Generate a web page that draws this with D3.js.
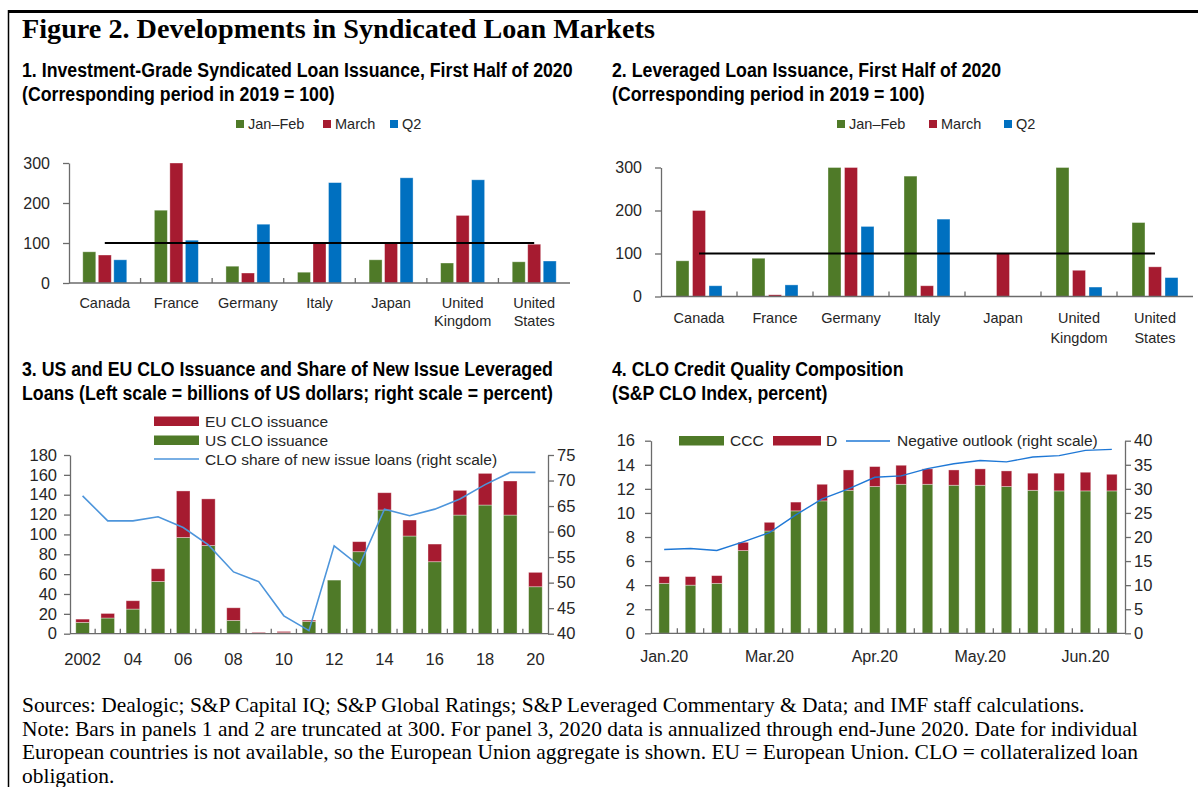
<!DOCTYPE html>
<html><head><meta charset="utf-8">
<script src="https://cdn.jsdelivr.net/npm/d3@7"></script>
<style>body{margin:0;background:#fff}svg{display:block}</style>
</head><body>
<script>
// ---------- DATA ----------
const countries = ["Canada","France","Germany","Italy","Japan","United Kingdom","United States"];
const countryLabelLines = [["Canada"],["France"],["Germany"],["Italy"],["Japan"],["United","Kingdom"],["United","States"]];
const periodNames = ["Jan–Feb","March","Q2"];
const igJanFeb = [78,182,42,27,58,50,53];
const igMarch  = [70,300,25,100,100,169,97];
const igQ2     = [58,107,147,251,263,258,55];
const levJanFeb = [83,89,300,280,0,300,172];
const levMarch  = [200,4,300,25,100,61,69];
const levQ2     = [25,27,163,180,0,22,44];
const p12Ticks = [0,100,200,300];
const baseline2019 = 100;

const years = [2002,2003,2004,2005,2006,2007,2008,2009,2010,2011,2012,2013,2014,2015,2016,2017,2018,2019,2020];
const yearLabels = ["2002","","04","","06","","08","","10","","12","","14","","16","","18","","20"];
const usCLO = [11.4,15.8,24.8,52.6,96.9,88.8,13.4,0.3,1.0,12.4,54.0,82.6,124.6,98.4,72.5,119.5,129.6,119.5,47.3];
const euCLO = [3.3,4.6,8.4,12.8,46.9,47.0,12.7,1.0,1.3,1.3,0.0,10.1,17.4,16.1,17.8,24.9,31.9,34.3,14.5];
const cloShare = [67.0,62.1,62.1,62.9,60.8,57.4,52.1,50.2,43.5,40.6,57.2,53.3,64.4,63.1,64.4,66.4,69.2,71.6,71.6];
const p3LeftTicks = [0,20,40,60,80,100,120,140,160,180];
const p3RightTicks = [40,45,50,55,60,65,70,75];

const weeks = ["w01","w02","w03","w04","w05","w06","w07","w08","w09","w10","w11","w12","w13","w14","w15","w16","w17","w18"];
const weekLabels = ["Jan.20","","","","Mar.20","","","","Apr.20","","","","May.20","","","","Jun.20",""];
const ratingCCC = [4.15,4.0,4.15,6.87,8.5,10.17,11.0,11.88,12.19,12.38,12.38,12.3,12.3,12.19,11.88,11.83,11.83,11.83];
const ratingD   = [0.56,0.71,0.64,0.69,0.72,0.73,1.38,1.69,1.66,1.58,1.28,1.27,1.36,1.30,1.42,1.47,1.55,1.38];
const negOutlook = [17.4,17.6,17.2,19.0,20.9,24.6,27.9,30.0,32.4,32.7,34.2,35.2,35.9,35.6,36.6,36.9,38.0,38.2];
const p4LeftTicks = [0,2,4,6,8,10,12,14,16];
const p4RightTicks = [0,5,10,15,20,25,30,35,40];

// ---------- STYLE ----------
const GREEN="#4F7A28", RED="#A61B30", BLUE="#0070C0", LBLUE3="#4D95DB", LBLUE4="#1F78D6";
const TXT="#262626", AX="#6b6b6b";
const SANS="'Liberation Sans', Arial, sans-serif";
const SERIF="'Liberation Serif','Times New Roman',serif";

const W=1198,H=787;
const svg=d3.select("body").append("svg").attr("width",W).attr("height",H);
svg.append("rect").attr("width",W).attr("height",H).attr("fill","#fff");
svg.append("line").attr("x1",8).attr("x2",W).attr("y1",11.5).attr("y2",11.5).attr("stroke","#000").attr("stroke-width",3);
svg.append("line").attr("x1",8.5).attr("x2",8.5).attr("y1",10).attr("y2",H).attr("stroke","#000").attr("stroke-width",1.5);

function fitText(x,y,str,family,weight,target,size){
  const t=svg.append("text").attr("x",x).attr("y",y).attr("font-family",family)
    .attr("font-weight",weight).attr("font-size",20).attr("fill","#000").text(str);
  const w=t.node().getComputedTextLength();
  const fs=size||20*target/w;
  t.attr("font-size",fs);
  return fs;
}
// condensed panel titles: regular bold face, horizontally condensed by a common factor
const TITLE_FS=21;
function condText(x,y,str){
  return svg.append("text").attr("x",0).attr("y",0).attr("font-family",SANS)
    .attr("font-weight","bold").attr("font-size",TITLE_FS).attr("fill","#000").text(str)
    .attr("data-x",x).attr("data-y",y);
}
// titles
fitText(22,38,"Figure 2. Developments in Syndicated Loan Markets",SERIF,"bold",633);
const titles=[
  [22,77,"1. Investment-Grade Syndicated Loan Issuance, First Half of 2020"],
  [22,101,"(Corresponding period in 2019 = 100)"],
  [612,77,"2. Leveraged Loan Issuance, First Half of 2020"],
  [612,101,"(Corresponding period in 2019 = 100)"],
  [22,376,"3. US and EU CLO Issuance and Share of New Issue Leveraged"],
  [22,400,"Loans (Left scale = billions of US dollars; right scale = percent)"],
  [612,376,"4. CLO Credit Quality Composition"],
  [612,400,"(S&P CLO Index, percent)"]
].map(([x,y,s])=>condText(x,y,s));
const K=551/titles[0].node().getComputedTextLength();
titles.forEach(t=>t.attr("transform",`translate(${t.attr("data-x")},${t.attr("data-y")}) scale(${K},1)`));

// footnotes
let fsn=fitText(22,712,"Sources: Dealogic; S&P Capital IQ; S&P Global Ratings; S&P Leveraged Commentary & Data; and IMF staff calculations.",SERIF,"normal",1063);
fitText(22,736,"Note: Bars in panels 1 and 2 are truncated at 300. For panel 3, 2020 data is annualized through end-June 2020. Date for individual",SERIF,"normal",0,fsn);
fitText(22,759,"European countries is not available,  so the European Union aggregate is shown. EU = European Union. CLO = collateralized loan",SERIF,"normal",0,fsn);
fitText(22,783,"obligation.",SERIF,"normal",0,fsn);

function styleAxis(g,fs){
  g.selectAll("path.domain").attr("stroke",AX).attr("stroke-width",1.3);
  g.selectAll(".tick line").attr("stroke",AX).attr("stroke-width",1.3);
  g.selectAll(".tick text").attr("fill",TXT).attr("font-family",SANS).attr("font-size",fs);
}

// ---------- PANELS 1 & 2 ----------
function grouped(cfg){
  const g=svg.append("g");
  const x=d3.scaleBand().domain(countries).range([cfg.x0,cfg.x1]);
  const y=d3.scaleLinear().domain([0,300]).range([cfg.y0,cfg.yTop]);
  const series=[cfg.s1,cfg.s2,cfg.s3], cols=[GREEN,RED,BLUE];
  const bw=cfg.bw,gap=cfg.gap,gw=3*bw+2*gap;
  series.forEach((vals,si)=>{
    g.selectAll(null).data(countries).enter().append("rect")
      .attr("x",d=>x(d)+x.bandwidth()/2-gw/2+si*(bw+gap))
      .attr("y",(d,i)=>y(vals[i])).attr("width",bw)
      .attr("height",(d,i)=>y(0)-y(vals[i])).attr("fill",cols[si])
      .attr("stroke","#ffffff").attr("stroke-opacity",0.45).attr("stroke-width",0.8);
  });
  const ya=g.append("g").attr("transform",`translate(${cfg.x0},0)`)
    .call(d3.axisLeft(y).tickValues(p12Ticks).tickSize(6).tickSizeOuter(0).tickPadding(cfg.pad));
  styleAxis(ya,cfg.tfs);
  g.append("line").attr("x1",cfg.x0).attr("x2",cfg.x1).attr("y1",cfg.y0).attr("y2",cfg.y0).attr("stroke",AX).attr("stroke-width",1.3);
  g.selectAll(null).data(countries.slice(1)).enter().append("line")
    .attr("x1",d=>x(d)).attr("x2",d=>x(d)).attr("y1",cfg.y0).attr("y2",cfg.y0-5).attr("stroke",AX).attr("stroke-width",1.3);
  g.append("line").attr("x1",x(countries[0])+x.bandwidth()/2).attr("x2",x(countries[6])+x.bandwidth()/2)
    .attr("y1",y(baseline2019)).attr("y2",y(baseline2019)).attr("stroke","#000").attr("stroke-width",2);
  countries.forEach((c,i)=>{
    const t=g.append("text").attr("text-anchor","middle").attr("font-family",SANS).attr("font-size",cfg.fs).attr("fill",TXT);
    countryLabelLines[i].forEach((ln,j)=>t.append("tspan").attr("x",x(c)+x.bandwidth()/2).attr("y",cfg.labY+j*cfg.labDy).text(ln));
  });
  cfg.leg.forEach((lx,i)=>{
    g.append("rect").attr("x",lx).attr("y",cfg.legY-4).attr("width",8).attr("height",8).attr("fill",cols[i]);
    g.append("text").attr("x",lx+12).attr("y",cfg.legY+5).attr("font-family",SANS).attr("font-size",cfg.fs).attr("fill",TXT).text(periodNames[i]);
  });
}
grouped({x0:69,x1:570,y0:283,yTop:163,s1:igJanFeb,s2:igMarch,s3:igQ2,bw:13,gap:2.5,pad:13,fs:14.5,tfs:16,labY:308,labDy:18,leg:[236,323,390],legY:124});
grouped({x0:661,x1:1193,y0:296.5,yTop:167.5,s1:levJanFeb,s2:levMarch,s3:levQ2,bw:13,gap:3.5,pad:13,fs:14.5,tfs:16,labY:323,labDy:20,leg:[837,929,1004],legY:124});

// ---------- PANEL 3 ----------
(function(){
  const g=svg.append("g");
  const x0=70,x1=548,y0=633.7,yT=455;
  const x=d3.scaleBand().domain(years).range([x0,x1]);
  const bw=x.bandwidth()*0.54;
  const yL=d3.scaleLinear().domain([0,180]).range([y0,yT]);
  const yR=d3.scaleLinear().domain([40,75]).range([y0,yT]);
  const table=years.map((yr,i)=>({year:yr,us:usCLO[i],eu:euCLO[i]}));
  const stack=d3.stack().keys(["us","eu"])(table);
  const cols={us:GREEN,eu:RED};
  stack.forEach(layer=>{
    g.selectAll(null).data(layer).enter().append("rect")
      .attr("x",d=>x(d.data.year)+x.bandwidth()/2-bw/2).attr("width",bw)
      .attr("y",d=>yL(d[1])).attr("height",d=>yL(d[0])-yL(d[1]))
      .attr("fill",cols[layer.key]).attr("stroke","#ffffff").attr("stroke-opacity",0.45).attr("stroke-width",0.8);
  });
  const la=g.append("g").attr("transform",`translate(${x0},0)`).call(d3.axisLeft(yL).tickValues(p3LeftTicks).tickSize(6).tickSizeOuter(0).tickPadding(7));
  styleAxis(la,16.5);
  const ra=g.append("g").attr("transform",`translate(${x1},0)`).call(d3.axisRight(yR).tickValues(p3RightTicks).tickSize(6).tickSizeOuter(0).tickPadding(3));
  styleAxis(ra,16.5);
  g.append("line").attr("x1",x0).attr("x2",x1).attr("y1",y0).attr("y2",y0).attr("stroke",AX).attr("stroke-width",1.3);
  g.selectAll(null).data(years.slice(1)).enter().append("line")
    .attr("x1",d=>x(d)).attr("x2",d=>x(d)).attr("y1",y0).attr("y2",y0-5).attr("stroke",AX).attr("stroke-width",1.3);
  g.selectAll(null).data(years).enter().append("text")
    .attr("x",d=>x(d)+x.bandwidth()/2).attr("y",665).attr("text-anchor","middle")
    .attr("font-family",SANS).attr("font-size",16.5).attr("fill",TXT).text((d,i)=>yearLabels[i]);
  const line=d3.line().x((d,i)=>x(years[i])+x.bandwidth()/2).y(d=>yR(d));
  g.append("path").datum(cloShare).attr("d",line).attr("fill","none").attr("stroke",LBLUE3).attr("stroke-width",1.6);
  g.append("rect").attr("x",154).attr("y",416.5).attr("width",45).attr("height",9.5).attr("fill",RED);
  g.append("rect").attr("x",154).attr("y",435.5).attr("width",45).attr("height",9.5).attr("fill",GREEN);
  g.append("line").attr("x1",154).attr("x2",199).attr("y1",459).attr("y2",459).attr("stroke",LBLUE3).attr("stroke-width",1.6);
  [["EU CLO issuance",421],["US CLO issuance",440],["CLO share of new issue loans (right scale)",459]].forEach(([s,yy])=>{
    g.append("text").attr("x",205).attr("y",yy+5.5).attr("font-family",SANS).attr("font-size",15.5).attr("fill",TXT).text(s);
  });
})();

// ---------- PANEL 4 ----------
(function(){
  const g=svg.append("g");
  const x0=651,x1=1125,y0=633.3,yT=440.7;
  const x=d3.scaleBand().domain(weeks).range([x0,x1]);
  const bw=x.bandwidth()*0.4;
  const yL=d3.scaleLinear().domain([0,16]).range([y0,yT]);
  const yR=d3.scaleLinear().domain([0,40]).range([y0,yT]);
  const table=weeks.map((w,i)=>({wk:w,ccc:ratingCCC[i],d:ratingD[i]}));
  const stack=d3.stack().keys(["ccc","d"])(table);
  const cols={ccc:GREEN,d:RED};
  stack.forEach(layer=>{
    g.selectAll(null).data(layer).enter().append("rect")
      .attr("x",d=>x(d.data.wk)+x.bandwidth()/2-bw/2).attr("width",bw)
      .attr("y",d=>yL(d[1])).attr("height",d=>yL(d[0])-yL(d[1]))
      .attr("fill",cols[layer.key]).attr("stroke","#ffffff").attr("stroke-opacity",0.45).attr("stroke-width",0.8);
  });
  const la=g.append("g").attr("transform",`translate(${x0},0)`).call(d3.axisLeft(yL).tickValues(p4LeftTicks).tickSize(6).tickSizeOuter(0).tickPadding(10));
  styleAxis(la,16.5);
  const ra=g.append("g").attr("transform",`translate(${x1},0)`).call(d3.axisRight(yR).tickValues(p4RightTicks).tickSize(6).tickSizeOuter(0).tickPadding(3));
  styleAxis(ra,16.5);
  g.append("line").attr("x1",x0).attr("x2",x1).attr("y1",y0).attr("y2",y0).attr("stroke",AX).attr("stroke-width",1.3);
  g.selectAll(null).data(weeks.slice(1)).enter().append("line")
    .attr("x1",d=>x(d)).attr("x2",d=>x(d)).attr("y1",y0).attr("y2",y0-5).attr("stroke",AX).attr("stroke-width",1.3);
  g.selectAll(null).data(weeks).enter().append("text")
    .attr("x",d=>x(d)+x.bandwidth()/2).attr("y",662).attr("text-anchor","middle")
    .attr("font-family",SANS).attr("font-size",16).attr("fill",TXT).text((d,i)=>weekLabels[i]);
  const line=d3.line().x((d,i)=>x(weeks[i])+x.bandwidth()/2).y(d=>yR(d));
  g.append("path").datum(negOutlook).attr("d",line).attr("fill","none").attr("stroke",LBLUE4).attr("stroke-width",1.4);
  g.append("rect").attr("x",679).attr("y",436).attr("width",45).attr("height",9.5).attr("fill",GREEN);
  g.append("text").attr("x",730).attr("y",446).attr("font-family",SANS).attr("font-size",15.5).attr("fill",TXT).text("CCC");
  g.append("rect").attr("x",773).attr("y",436).attr("width",48).attr("height",9.5).attr("fill",RED);
  g.append("text").attr("x",826).attr("y",446).attr("font-family",SANS).attr("font-size",15.5).attr("fill",TXT).text("D");
  g.append("line").attr("x1",846).attr("x2",890).attr("y1",441).attr("y2",441).attr("stroke",LBLUE4).attr("stroke-width",1.4);
  g.append("text").attr("x",897).attr("y",446).attr("font-family",SANS).attr("font-size",15.5).attr("fill",TXT).text("Negative outlook (right scale)");
})();
</script>
</body></html>
